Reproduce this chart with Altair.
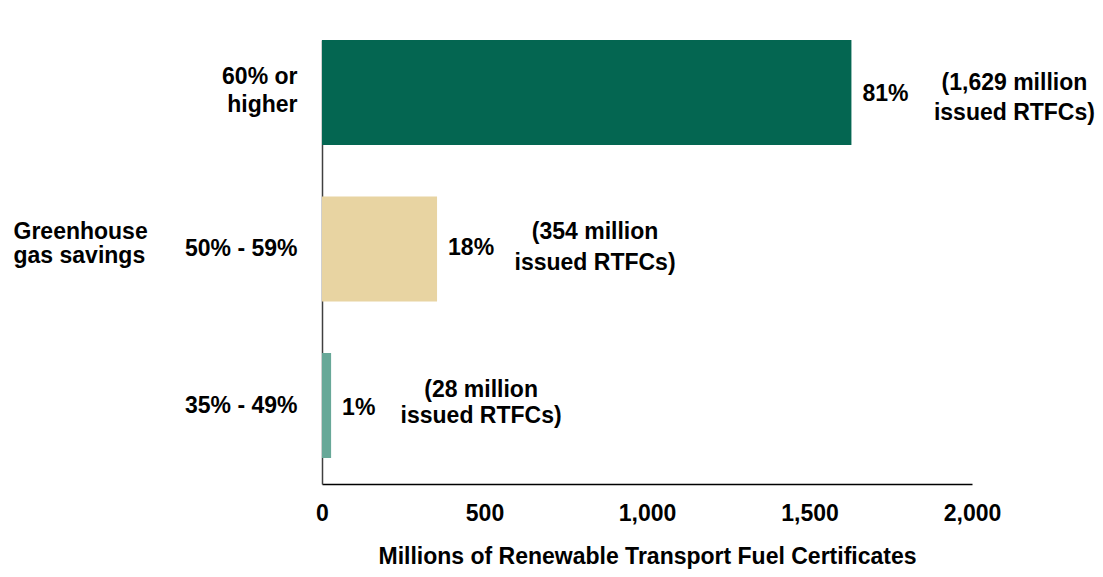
import altair as alt
import pandas as pd

# ---- data ----
categories = ["60% or\nhigher", "50% - 59%", "35% - 49%"]
values = [1629, 354, 28]            # millions of issued RTFCs
shares = ["81%", "18%", "1%"]
colors = ["#046651", "#E8D4A2", "#68A898"]
x_ticks = [0, 500, 1000, 1500, 2000]

notes = [f"({v:,} million\nissued RTFCs)" for v in values]

df = pd.DataFrame({
    "cat": categories,
    "value": values,
    "share": shares,
    "note": notes,
})

FONT = "Liberation Sans"
FS = 23

y_enc = alt.Y(
    "cat:N",
    sort=categories,
    scale=alt.Scale(paddingInner=0.33, paddingOuter=0.083, align=0),
    axis=alt.Axis(
        title=["Greenhouse", "gas savings"],
        titleAngle=0,
        titleAlign="left",
        titleBaseline="middle",
        titleX=-309,
        titleY=191,
        titleLineHeight=24,
        titleFont=FONT,
        titleFontSize=FS,
        titleFontWeight="bold",
        titleColor="#000000",
        labelExpr="split(datum.label, '\\n')",
        labelLineHeight=28,
        labelOffset={
            "condition": {"test": "indexof(datum.label, 'higher') >= 0", "value": -15},
            "value": 0,
        },
        labelFont=FONT,
        labelFontSize=FS,
        labelFontWeight="bold",
        labelColor="#000000",
        labelPadding=25,
        labelAlign="right",
        labelBaseline="middle",
        ticks=False,
        domainColor="#404040",
        domainWidth=1.5,
        grid=False,
    ),
)

x_enc = alt.X(
    "value:Q",
    scale=alt.Scale(domain=[0, 2000], nice=False),
    axis=alt.Axis(
        title="Millions of Renewable Transport Fuel Certificates",
        values=x_ticks,
        format=",.0f",
        titleFont=FONT,
        titleFontSize=FS,
        titleFontWeight="bold",
        titleColor="#000000",
        titlePadding=20,
        labelFont=FONT,
        labelFontSize=FS,
        labelFontWeight="bold",
        labelColor="#000000",
        labelPadding=18,
        labelFlush=False,
        ticks=False,
        domainColor="#000000",
        domainWidth=1.5,
        grid=False,
    ),
)

base = alt.Chart(df)

bars = base.mark_bar().encode(
    x=x_enc,
    y=y_enc,
    color=alt.Color(
        "cat:N",
        scale=alt.Scale(domain=categories, range=colors),
        legend=None,
    ),
)

# per-row label placement (style only)
pct_dy = [1.5, -1.5, 2]
note_dx = [163, 158, 150]
note_dy = [-9, -17, -15.5]
note_lh = [30, 31, 26]

layers = [bars]
for i, c in enumerate(categories):
    row = base.transform_filter(alt.datum.cat == c)
    layers.append(
        row.mark_text(
            align="left", baseline="middle", dx=11, dy=pct_dy[i],
            font=FONT, fontSize=FS, fontWeight="bold", color="#000000",
        ).encode(
            x=alt.X("value:Q"),
            y=alt.Y("cat:N", sort=categories),
            text="share:N",
        )
    )
    layers.append(
        row.mark_text(
            align="center", baseline="middle", dx=note_dx[i], dy=note_dy[i],
            lineBreak="\n", lineHeight=note_lh[i],
            font=FONT, fontSize=FS, fontWeight="bold", color="#000000",
        ).encode(
            x=alt.X("value:Q"),
            y=alt.Y("cat:N", sort=categories),
            text="note:N",
        )
    )

chart = alt.layer(*layers).properties(
    width=650,
    height=444,
    autosize=alt.AutoSizeParams(type="none"),
    padding={"left": 314, "top": 32, "right": 123, "bottom": 85},
    background="#ffffff",
).configure_view(stroke=None)

chart.save("out.html", embed_options={"renderer": "svg", "actions": False})
